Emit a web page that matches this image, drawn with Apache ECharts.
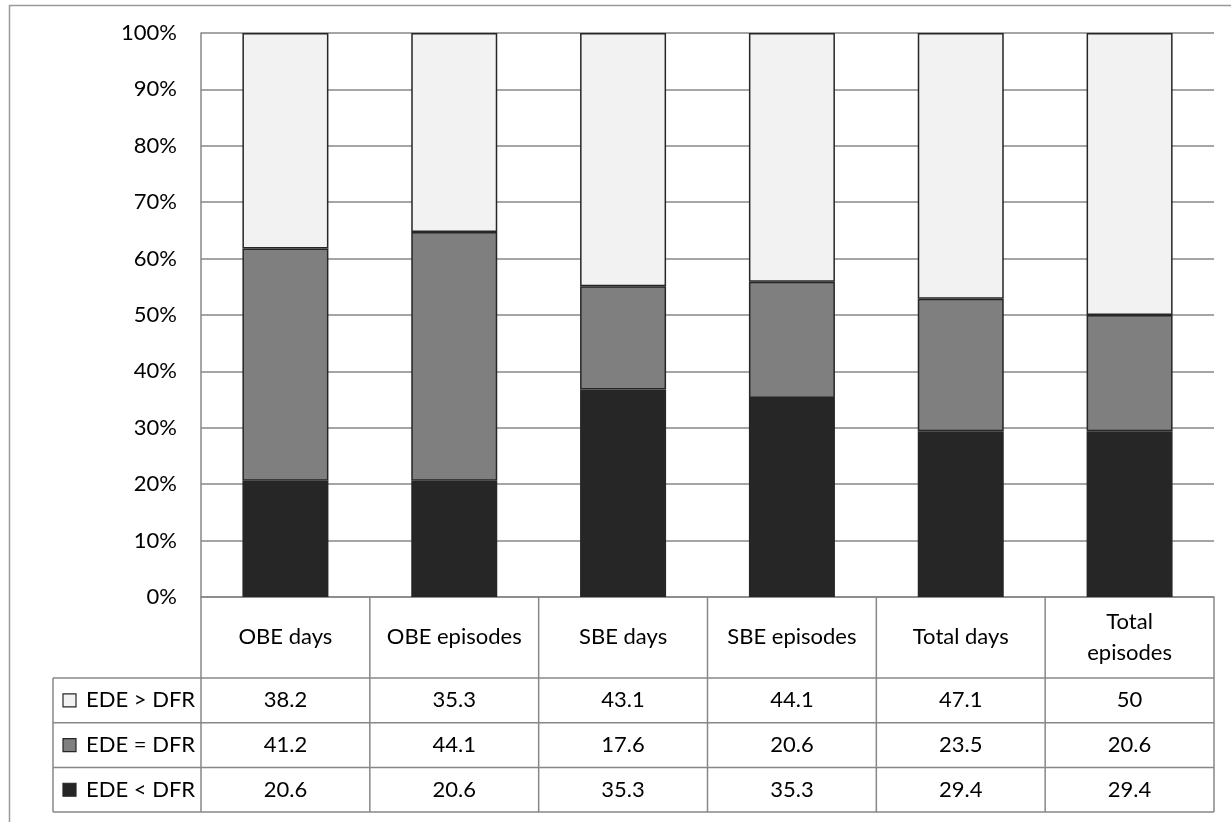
<!DOCTYPE html>
<html>
<head>
<meta charset="utf-8">
<script src="https://cdn.jsdelivr.net/npm/echarts@6/dist/echarts.min.js"></script>
<style>
html,body{margin:0;padding:0;background:#fff;}
#chart{width:1231px;height:822px;}
</style>
</head>
<body>
<div id="chart"></div>
<script>
// ---- data ----
const categories = ['OBE days', 'OBE episodes', 'SBE days', 'SBE episodes', 'Total days', 'Total episodes'];
const seriesNames = ['EDE > DFR', 'EDE = DFR', 'EDE < DFR'];
const edeGreater = [38.2, 35.3, 43.1, 44.1, 47.1, 50];
const edeEqual = [41.2, 44.1, 17.6, 20.6, 23.5, 20.6];
const edeLess = [20.6, 20.6, 35.3, 35.3, 29.4, 29.4];
const yTickLabels = ['0%', '10%', '20%', '30%', '40%', '50%', '60%', '70%', '80%', '90%', '100%'];

// ---- styles ----
const FONT = 'Lato';
const FS = 22;
const colors = { 'EDE > DFR': '#f2f2f2', 'EDE = DFR': '#7f7f7f', 'EDE < DFR': '#262626' };
const lineGray = '#878787';
const G = { left: 201, top: 33, right: 17, bottom: 225 };
const W = 1231, H = 822;
const wrapInHeader = ['Total episodes'];

const raw = { 'EDE > DFR': edeGreater, 'EDE = DFR': edeEqual, 'EDE < DFR': edeLess };
const totals = categories.map((c, i) => edeGreater[i] + edeEqual[i] + edeLess[i]);
const pct = name => raw[name].map((v, i) => v / totals[i] * 100);

const stackOrder = ['EDE < DFR', 'EDE = DFR', 'EDE > DFR'];

const chart = echarts.init(document.getElementById('chart'));
const option = {
  animation: false,
  textStyle: { fontFamily: FONT },
  grid: { left: G.left, top: G.top, right: G.right, bottom: G.bottom, containLabel: false },
  xAxis: {
    type: 'category',
    data: categories,
    axisLine: { show: true, lineStyle: { color: lineGray, width: 1.5 } },
    axisTick: { show: false },
    axisLabel: {
      color: '#000', fontSize: FS, fontFamily: FONT, margin: 40, verticalAlign: 'middle',
      interval: 0, lineHeight: 31,
      formatter: v => wrapInHeader.indexOf(v) >= 0 ? v.replace(' ', '\n') : v
    },
    splitLine: { show: false }
  },
  yAxis: {
    type: 'value', min: 0, max: 100, interval: 10,
    axisLine: { show: true, lineStyle: { color: lineGray, width: 1.5 } },
    axisTick: { show: false },
    axisLabel: {
      color: '#000', fontSize: FS, fontFamily: FONT, margin: 24,
      formatter: v => yTickLabels[Math.round(v / 10)]
    },
    splitLine: { show: true, lineStyle: { color: lineGray, width: 1.5 } }
  },
  series: stackOrder.map(name => ({
    name: name,
    type: 'bar',
    stack: 'total',
    barWidth: 86,
    data: pct(name),
    itemStyle: { color: colors[name], borderColor: '#262626', borderWidth: 1.5 }
  }))
};
chart.setOption(option);

// ---- data table below the plot ----
const x1 = W - G.right;
const yAxisPix = H - G.bottom;
const headerBottom = 678;
const rowH = 44.7;
const legendLeft = 53;
const rowYs = [headerBottom, headerBottom + rowH, headerBottom + 2 * rowH, headerBottom + 3 * rowH];
const bw = (x1 - G.left) / categories.length;
const graphics = [];
const line = (ax, ay, bx, by) => graphics.push({
  type: 'line', silent: true,
  shape: { x1: ax, y1: ay, x2: bx, y2: by },
  style: { stroke: lineGray, lineWidth: 1.5 }
});
// outer frame
graphics.push({ type: 'rect', silent: true, shape: { x: 9.5, y: 5.5, width: W + 10, height: H + 10 },
  style: { fill: null, stroke: '#9a9a9a', lineWidth: 1.5 } });
for (let i = 0; i <= categories.length; i++) {
  const cx = categories[i] !== undefined ? chart.convertToPixel({ xAxisIndex: 0 }, categories[i]) - bw / 2 : x1;
  line(cx, yAxisPix, cx, rowYs[3]);
}
line(legendLeft, rowYs[0], legendLeft, rowYs[3]);
rowYs.forEach(y => line(legendLeft, y, x1, y));

seriesNames.forEach((name, r) => {
  const cy = (rowYs[r] + rowYs[r + 1]) / 2;
  graphics.push({ type: 'rect', silent: true, shape: { x: 63, y: cy - 6.5, width: 13, height: 13 },
    style: { fill: colors[name], stroke: '#262626', lineWidth: 1.2 } });
  graphics.push({ type: 'text', silent: true, x: 86, y: cy,
    style: { text: name, fill: '#000', font: FS + 'px ' + FONT, textVerticalAlign: 'middle', textAlign: 'left' } });
  raw[name].forEach((v, i) => {
    const cx = chart.convertToPixel({ xAxisIndex: 0 }, categories[i]);
    graphics.push({ type: 'text', silent: true, x: cx, y: cy,
      style: { text: String(v), fill: '#000', font: FS + 'px ' + FONT, textVerticalAlign: 'middle', textAlign: 'center' } });
  });
});
chart.setOption({ graphic: graphics });
</script>
</body>
</html>
